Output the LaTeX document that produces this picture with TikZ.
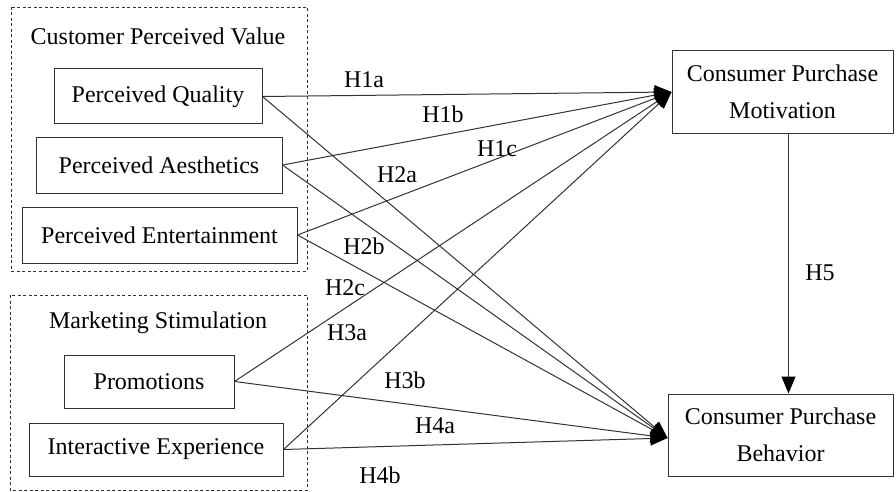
\documentclass[tikz,border=0pt]{standalone}
\usepackage{fontspec}
\setmainfont{Liberation Serif}
\usetikzlibrary{arrows.meta}
\definecolor{ln}{HTML}{333333}
\tikzset{
  box/.style={draw=ln, line width=1pt, inner sep=0pt, align=center, text=black, font=\fontsize{24}{37}\selectfont},
  grp/.style={draw=ln, line width=0.9pt, dash pattern=on 3pt off 2.5pt},
  lbl/.style={inner sep=0pt, text=black, font=\fontsize{24}{28}\selectfont},
  conn/.style={draw=ln, line width=1pt, -{Triangle[length=17pt,width=14pt,fill=black,color=black]}},
}
\begin{document}
\begin{tikzpicture}[x=1pt,y=-1pt]
\useasboundingbox (0,0) rectangle (896,492);
% group frames
\draw[grp] (11,7) rectangle (307,271);
\draw[grp] (10,295) rectangle (307,490);
\node[lbl] (t1) at (158,36) {Customer Perceived Value};
\node[lbl] (t2) at (158,323) {Marketing Stimulation};
% boxes
\node[box, minimum width=208pt, minimum height=55pt] (pq) at (158,96.5) {Perceived Quality};
\node[box, minimum width=246pt, minimum height=56pt] (pa) at (159,165) {Perceived Aesthetics};
\node[box, minimum width=275pt, minimum height=56pt] (pe) at (159.5,235) {Perceived Entertainment};
\node[box, minimum width=170pt, minimum height=53pt] (pr) at (149,381.5) {Promotions};
\node[box, minimum width=254pt, minimum height=53pt] (ie) at (156,449.5) {Interactive Experience};
\node[box, minimum width=221pt, minimum height=82pt] (cpm) at (782.5,92) {Consumer Purchase\\Motivation};
\node[box, minimum width=225pt, minimum height=82pt] (cpb) at (780.5,435) {Consumer Purchase\\Behavior};
% connectors
\draw[conn] (pq.east) -- (cpm.west);
\draw[conn] (pa.east) -- (cpm.west);
\draw[conn] (pe.east) -- (cpm.west);
\draw[conn] (pr.east) -- (cpm.west);
\draw[conn] (ie.east) -- (cpm.west);
\draw[conn] (pq.east) -- ([yshift=-3pt]cpb.west);
\draw[conn] (pa.east) -- ([yshift=-3pt]cpb.west);
\draw[conn] (pe.east) -- ([yshift=-3pt]cpb.west);
\draw[conn] (pr.east) -- ([yshift=-3pt]cpb.west);
\draw[conn] (ie.east) -- ([yshift=-3pt]cpb.west);
\draw[conn] ([xshift=6pt]cpm.south) -- ([xshift=8pt]cpb.north);
% labels
\node[lbl] (h1a) at (364,80) {H1a};
\node[lbl] (h1b) at (443,114) {H1b};
\node[lbl] (h1c) at (497,149) {H1c};
\node[lbl] (h2a) at (397,175) {H2a};
\node[lbl] (h2b) at (364,246) {H2b};
\node[lbl] (h2c) at (345,288) {H2c};
\node[lbl] (h3a) at (347,333) {H3a};
\node[lbl] (h3b) at (405,380) {H3b};
\node[lbl] (h4a) at (435,426) {H4a};
\node[lbl] (h4b) at (380,475) {H4b};
\node[lbl] (h5) at (820,273) {H5};
\end{tikzpicture}
\end{document}
